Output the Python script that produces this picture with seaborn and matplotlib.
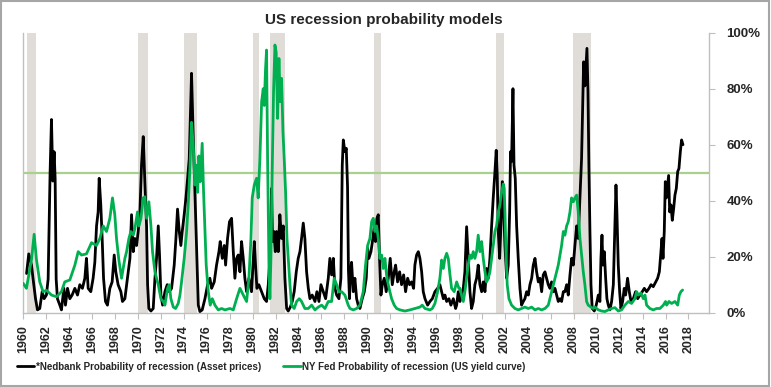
import matplotlib
matplotlib.use('Agg')
import matplotlib.pyplot as plt
import seaborn as sns
import pandas as pd
from matplotlib.patches import Rectangle

# Nedbank model (black) - year, probability %
ned_years = [1960.30, 1960.49, 1960.73, 1960.87, 1961.08, 1961.25, 1961.45, 1961.66, 1961.83, 1962.03,
             1962.18, 1962.35, 1962.47, 1962.59, 1962.70, 1962.79, 1962.88, 1962.99, 1963.20, 1963.34,
             1963.55, 1963.69, 1963.87, 1964.07, 1964.27, 1964.51, 1964.74, 1964.94, 1965.17, 1965.38,
             1965.52, 1965.67, 1965.90, 1966.10, 1966.25, 1966.40, 1966.54, 1966.63, 1966.77, 1966.89,
             1967.01, 1967.18, 1967.35, 1967.56, 1967.76, 1967.94, 1968.08, 1968.28, 1968.52, 1968.66,
             1968.87, 1969.02, 1969.16, 1969.31, 1969.45, 1969.60, 1969.74, 1969.89, 1970.03, 1970.18,
             1970.32, 1970.47, 1970.61, 1970.76, 1970.85, 1970.96, 1971.14, 1971.34, 1971.49, 1971.63,
             1971.78, 1971.89, 1972.01, 1972.16, 1972.36, 1972.56, 1972.74, 1972.94, 1973.17, 1973.32,
             1973.46, 1973.61, 1973.75, 1973.87, 1974.04, 1974.19, 1974.34, 1974.48, 1974.60, 1974.68,
             1974.80, 1974.92, 1975.03, 1975.15, 1975.27, 1975.41, 1975.61, 1975.85, 1976.08, 1976.28,
             1976.43, 1976.66, 1976.86, 1977.07, 1977.18, 1977.36, 1977.53, 1977.65, 1977.82, 1977.99,
             1978.17, 1978.32, 1978.46, 1978.61, 1978.75, 1978.90, 1979.04, 1979.19, 1979.33, 1979.48,
             1979.68, 1979.91, 1980.15, 1980.26, 1980.38, 1980.55, 1980.79, 1981.02, 1981.22, 1981.37,
             1981.51, 1981.66, 1981.74, 1981.86, 1981.98, 1982.09, 1982.24, 1982.38, 1982.53, 1982.68,
             1982.82, 1982.97, 1983.11, 1983.29, 1983.46, 1983.63, 1983.81, 1983.98, 1984.13, 1984.27,
             1984.42, 1984.56, 1984.71, 1984.86, 1985.00, 1985.20, 1985.44, 1985.61, 1985.79, 1985.96,
             1986.16, 1986.37, 1986.60, 1986.74, 1986.89, 1987.04, 1987.18, 1987.33, 1987.53, 1987.70,
             1987.82, 1987.91, 1988.05, 1988.17, 1988.28, 1988.36, 1988.45, 1988.52, 1988.63, 1988.78,
             1988.92, 1989.07, 1989.21, 1989.36, 1989.56, 1989.74, 1989.91, 1990.03, 1990.14, 1990.32,
             1990.49, 1990.61, 1990.72, 1990.84, 1990.96, 1991.07, 1991.19, 1991.31, 1991.48, 1991.65,
             1991.83, 1992.00, 1992.18, 1992.35, 1992.47, 1992.64, 1992.82, 1992.99, 1993.17, 1993.34,
             1993.52, 1993.69, 1993.86, 1994.04, 1994.15, 1994.30, 1994.45, 1994.59, 1994.74, 1994.88,
             1995.03, 1995.26, 1995.46, 1995.67, 1995.90, 1996.13, 1996.33, 1996.48, 1996.63, 1996.77,
             1996.92, 1997.12, 1997.29, 1997.50, 1997.70, 1997.79, 1997.93, 1998.08, 1998.22, 1998.37,
             1998.51, 1998.66, 1998.80, 1998.95, 1999.09, 1999.24, 1999.38, 1999.53, 1999.67, 1999.82,
             1999.97, 2000.11, 2000.26, 2000.40, 2000.55, 2000.69, 2000.84, 2000.98, 2001.13, 2001.24,
             2001.33, 2001.42, 2001.54, 2001.65, 2001.77, 2001.88, 2002.00, 2002.15, 2002.29, 2002.41,
             2002.49, 2002.58, 2002.70, 2002.79, 2002.90, 2003.02, 2003.16, 2003.31, 2003.45, 2003.60,
             2003.74, 2003.89, 2004.04, 2004.18, 2004.33, 2004.47, 2004.62, 2004.76, 2004.91, 2005.05,
             2005.20, 2005.34, 2005.49, 2005.63, 2005.78, 2005.92, 2006.07, 2006.22, 2006.36, 2006.51,
             2006.65, 2006.80, 2006.94, 2007.09, 2007.23, 2007.38, 2007.52, 2007.67, 2007.81, 2007.96,
             2008.10, 2008.25, 2008.39, 2008.54, 2008.68, 2008.77, 2008.86, 2008.97, 2009.06, 2009.15,
             2009.24, 2009.32, 2009.41, 2009.50, 2009.61, 2009.79, 2009.96, 2010.14, 2010.28, 2010.37,
             2010.46, 2010.54, 2010.66, 2010.78, 2010.89, 2011.01, 2011.15, 2011.30, 2011.45, 2011.59,
             2011.68, 2011.76, 2011.88, 2012.00, 2012.11, 2012.26, 2012.40, 2012.52, 2012.69, 2012.84,
             2012.99, 2013.19, 2013.39, 2013.57, 2013.77, 2013.97, 2014.15, 2014.35, 2014.56, 2014.73,
             2014.93, 2015.14, 2015.31, 2015.46, 2015.60, 2015.69, 2015.78, 2015.89, 2015.98, 2016.07,
             2016.18, 2016.27, 2016.36, 2016.47, 2016.59, 2016.71, 2016.82, 2016.94, 2017.06, 2017.17,
             2017.29, 2017.40, 2017.52]
ned_vals = [14, 21, 17, 12, 5, 1, 1.5, 7.5, 5, 6.3,
            12, 50, 69, 47, 57.5, 48, 12, 5, 2.7, 1,
            8.7, 2.7, 8.7, 5, 6.3, 8.7, 6.3, 10, 8.7, 12.3,
            19.4, 8.7, 7.5, 12.3, 18, 31, 36, 48, 38.5, 26.5,
            12.3, 4, 2.7, 8.7, 11, 20.6, 14.6, 10, 7.5, 4,
            5, 10, 14.6, 19.4, 35, 21.8, 26.5, 24, 29, 36,
            52.7, 62.9, 46.8, 31, 10, 1.5, 0.6, 1.5, 12.3, 19.4,
            31, 20.6, 6.3, 2.7, 7.5, 10, 7.5, 8.7, 17, 26.5,
            37, 29, 24, 29, 35, 41, 48, 55, 73, 85.5,
            67, 50.4, 36, 19.4, 2.7, 0.4, 1, 5, 10, 12.3,
            8.7, 11, 17, 21.8, 25.4, 19.4, 24, 17, 26.5, 32.5,
            33.7, 21.8, 12.3, 19.4, 20.6, 14.6, 25.4, 19.4, 12.3, 7.5,
            12.3, 7.5, 25.4, 17, 8.7, 10, 7.5, 5, 4, 10,
            19.4, 44.4, 25.4, 29, 21.8, 29, 21.8, 35, 26.5, 31,
            12.3, 1.5, 0.6, 2, 4, 7.5, 14.6, 19.4, 21.8, 26.5,
            32, 26.5, 14.6, 8.7, 5, 6.3, 4, 7.5, 4, 10,
            7.5, 5, 12.3, 19.4, 13.5, 19.4, 8.7, 6.3, 5, 12.3,
            52.7, 61.7, 57.5, 58.7, 45, 15, 5, 13.5, 18, 7.5,
            12.3, 5, 2.7, 1.5, 5, 7.5, 12.3, 23, 19.4, 21.8,
            26.5, 31, 25.4, 33.7, 35, 19.4, 6.3, 10, 12.3, 7.5,
            12.3, 19.4, 10, 14.6, 17, 11, 14.6, 10, 13.5, 7.5,
            12.3, 10, 11, 8.7, 17, 20.6, 21.8, 19.4, 14.6, 7.5,
            5, 2.7, 4, 5, 7.5, 8.7, 10, 7.5, 5, 6.3,
            4, 5, 2.7, 5, 1.5, 2.7, 7.5, 4, 6.3, 8.7,
            14.6, 30.7, 19.4, 7.5, 1.5, 4, 10, 12.3, 17, 10,
            7.5, 11, 7.5, 15.8, 12.3, 19.4, 31, 41, 50.4, 58,
            49, 29, 19.4, 31, 46.8, 38.5, 24, 12.3, 17, 36,
            57.5, 54, 80, 52.7, 48, 31, 19.4, 8.7, 2.7, 4,
            5, 7.5, 6.3, 10, 12.3, 17, 19.4, 14.6, 11, 12.3,
            7.5, 13.5, 14.6, 12.3, 10, 8.7, 11, 7.5, 8.7, 6.3,
            4, 5, 4, 7.5, 7.5, 10, 6.3, 13.5, 19.4, 17,
            24, 31, 26.5, 41, 55, 73, 89.6, 81, 88, 94.4,
            79, 52.7, 29, 10, 1.5, 0.6, 2.7, 6.3, 4, 19.4,
            27.7, 17, 21.8, 12.3, 5, 2.7, 1, 4, 10, 31,
            45.6, 36, 17, 7.5, 1.5, 4, 8.7, 6.3, 12.3, 7.5,
            4, 5, 7.5, 5, 6.3, 7.5, 8.7, 7.5, 8.7, 10,
            9.3, 11, 12.3, 14.6, 21.8, 26.5, 19.4, 29, 46.8, 41,
            45.6, 49, 36, 38.5, 33, 37.3, 42, 44.4, 50.4, 51.5,
            57.5, 61.7, 60]

# NY Fed model (green) - year, probability %
fed_years = [1960.00, 1960.29, 1960.73, 1960.96, 1961.16, 1961.45, 1961.74, 1962.03, 1962.47, 1962.91,
             1963.34, 1963.63, 1964.07, 1964.51, 1964.80, 1965.09, 1965.52, 1965.96, 1966.40, 1966.69,
             1966.98, 1967.27, 1967.56, 1967.79, 1967.99, 1968.14, 1968.34, 1968.58, 1968.87, 1969.02,
             1969.22, 1969.39, 1969.60, 1969.74, 1969.97, 1970.09, 1970.27, 1970.47, 1970.61, 1970.76,
             1970.96, 1971.14, 1971.28, 1971.49, 1971.63, 1971.78, 1972.01, 1972.21, 1972.36, 1972.59,
             1972.74, 1972.88, 1973.09, 1973.29, 1973.52, 1973.67, 1973.81, 1974.04, 1974.25, 1974.39,
             1974.54, 1974.68, 1974.83, 1974.97, 1975.09, 1975.21, 1975.32, 1975.44, 1975.61, 1975.73,
             1975.85, 1975.96, 1976.14, 1976.31, 1976.49, 1976.72, 1977.01, 1977.30, 1977.59, 1978.03,
             1978.32, 1978.61, 1978.90, 1979.19, 1979.48, 1979.68, 1979.86, 1979.97, 1980.15, 1980.35,
             1980.49, 1980.64, 1980.79, 1980.93, 1981.02, 1981.13, 1981.22, 1981.31, 1981.43, 1981.51,
             1981.60, 1981.72, 1981.83, 1981.95, 1982.06, 1982.18, 1982.30, 1982.41, 1982.53, 1982.65,
             1982.76, 1982.88, 1983.00, 1983.11, 1983.26, 1983.40, 1983.63, 1983.84, 1984.07, 1984.27,
             1984.56, 1984.86, 1985.15, 1985.44, 1985.73, 1986.02, 1986.31, 1986.60, 1986.89, 1987.12,
             1987.33, 1987.53, 1987.76, 1988.05, 1988.34, 1988.49, 1988.78, 1989.07, 1989.36, 1989.65,
             1989.85, 1990.03, 1990.23, 1990.38, 1990.52, 1990.67, 1990.81, 1990.96, 1991.10, 1991.25,
             1991.39, 1991.54, 1991.68, 1991.83, 1991.97, 1992.12, 1992.35, 1992.56, 1992.85, 1993.28,
             1993.72, 1994.15, 1994.59, 1994.79, 1995.03, 1995.46, 1995.67, 1995.90, 1996.13, 1996.33,
             1996.48, 1996.63, 1996.77, 1996.92, 1997.06, 1997.21, 1997.35, 1997.58, 1997.79, 1997.99,
             1998.08, 1998.22, 1998.37, 1998.51, 1998.66, 1998.80, 1998.95, 1999.09, 1999.24, 1999.38,
             1999.53, 1999.67, 1999.82, 1999.97, 2000.11, 2000.26, 2000.40, 2000.55, 2000.69, 2000.84,
             2000.98, 2001.13, 2001.27, 2001.42, 2001.56, 2001.71, 2001.86, 2001.94, 2002.00, 2002.09,
             2002.20, 2002.35, 2002.58, 2002.87, 2003.16, 2003.45, 2003.74, 2004.04, 2004.33, 2004.62,
             2004.91, 2005.20, 2005.49, 2005.78, 2006.07, 2006.36, 2006.65, 2006.80, 2006.94, 2007.09,
             2007.23, 2007.38, 2007.52, 2007.67, 2007.81, 2007.96, 2008.10, 2008.25, 2008.39, 2008.54,
             2008.68, 2008.83, 2008.97, 2009.12, 2009.26, 2009.50, 2009.70, 2009.85, 2010.14, 2010.43,
             2010.72, 2011.01, 2011.30, 2011.59, 2011.88, 2012.17, 2012.46, 2012.75, 2013.04, 2013.33,
             2013.48, 2013.63, 2013.86, 2014.06, 2014.21, 2014.35, 2014.64, 2014.93, 2015.22, 2015.51,
             2015.81, 2016.00, 2016.10, 2016.30, 2016.53, 2016.82, 2017.06, 2017.20, 2017.34, 2017.49]
fed_vals = [10.5, 8.7, 19, 28, 19, 11, 7.5, 8, 6.3, 5.7,
            7.5, 11, 11.7, 17, 21.8, 20.6, 21, 25, 24, 26.5,
            31, 29, 33.7, 41, 35, 26.5, 19, 12.3, 19.4, 21.8,
            26.5, 29, 27.7, 30, 36, 31, 33.7, 41, 41.4, 33.7,
            39.6, 31, 21.8, 14.6, 12.3, 10, 5, 4, 2.7, 8.7,
            10, 5, 2, 1.5, 3.3, 6.3, 11, 19.4, 29, 38.5,
            51.5, 68, 60, 45.6, 52.7, 43, 56, 46.8, 60.5, 43,
            29, 17, 7.5, 2.7, 5, 2.7, 1, 1.5, 1, 1.5,
            1, 5, 8.7, 6.3, 4, 12.3, 26.5, 41, 45.6, 48,
            41, 55, 75.4, 80, 74, 87, 93.8, 55, 17, 5,
            19.4, 52.7, 79, 95.6, 93, 69.4, 90.8, 75.4, 83.7, 64.6,
            55, 43, 26.5, 19.4, 10, 2.7, 1.5, 4, 5, 4,
            1.5, 1.5, 2.7, 1, 2, 2.7, 1.5, 4, 4, 12.3,
            10, 7.5, 7.5, 6.3, 2.7, 1.5, 1, 1.5, 2.7, 7.5,
            17, 24, 26.5, 32.5, 33.7, 29, 31, 26.5, 19.4, 20.6,
            15.8, 19.4, 13.5, 10, 7.5, 5, 2.7, 1.5, 1, 0.6,
            1, 1.5, 2, 2.7, 1.5, 1, 1.5, 3.3, 7.5, 12.3,
            18.8, 15.8, 19.4, 21.2, 19.4, 13.5, 8.7, 7.5, 11, 8.7,
            8.7, 6.3, 4, 7.5, 12.3, 17, 20.6, 19.4, 21.8, 19.4,
            21.8, 27.7, 21.8, 25.4, 19.4, 14.6, 11, 12.3, 14.6, 19.4,
            24, 29, 31, 36, 38.5, 43, 46, 44.4, 36, 21.8,
            10, 5, 2.7, 1.5, 1, 1.5, 2, 1.5, 2, 1,
            1.5, 1, 1.5, 2.7, 7.5, 12.3, 17, 20.6, 24, 29,
            27.7, 31, 32.5, 36, 41, 39.6, 41, 42, 36, 26.5,
            20.6, 14.6, 10, 4, 2.7, 2, 1.5, 2, 1, 0.6,
            0.4, 1, 1.5, 1.8, 0.6, 1, 2.7, 4, 3.3, 5,
            7.5, 6.3, 7, 5, 6.3, 2.7, 1.5, 1, 1.5, 1.5,
            2.7, 4, 2.7, 4, 3.3, 4, 2.7, 6.3, 7.5, 8.1]

# recession bands
rec_start = [1960.38, 1970.05, 1974.00, 1980.06, 1981.51, 1990.55, 2001.19, 2007.96]
rec_end = [1961.10, 1970.85, 1975.18, 1980.55, 1982.82, 1991.19, 2001.94, 2009.47]

ned_label = '*Nedbank Probability of recession (Asset prices)'
fed_label = 'NY Fed Probability of recession (US yield curve)'

ned = pd.DataFrame({'year': ned_years, 'prob': ned_vals})
fed = pd.DataFrame({'year': fed_years, 'prob': fed_vals})

sns.set_style('white')
plt.rcParams['font.family'] = ['Liberation Sans', 'DejaVu Sans']
plt.rcParams['font.weight'] = 'bold'

fig = plt.figure(figsize=(7.71, 3.87), dpi=100)
ax = fig.add_axes([0.030, 0.192, 0.889, 0.7235])

for s, e in zip(rec_start, rec_end):
    ax.axvspan(s, e, color='#E0DDD9', lw=0, zorder=0)
ax.axhline(50, color='#A9D18E', lw=1.6, zorder=1)

sns.lineplot(data=ned, x='year', y='prob', ax=ax, color='black', lw=2.0, label=ned_label, zorder=3)
sns.lineplot(data=fed, x='year', y='prob', ax=ax, color='#00B050', lw=2.0, label=fed_label, zorder=4)

ax.set_xlim(1960, 2019.75)
ax.set_ylim(0, 100)
ax.set_xticks(range(1960, 2019, 2))
ax.set_xticklabels([str(y) for y in range(1960, 2019, 2)], rotation=90, fontsize=9, fontweight='bold')
ax.yaxis.tick_right()
ax.set_yticks(range(0, 101, 20))
ax.set_yticklabels([f'{v}%' for v in range(0, 101, 20)], fontsize=9.5, fontweight='bold')
ax.tick_params(axis='x', direction='out', length=4, color='#BFBFBF', pad=5, bottom=True)
ax.tick_params(axis='y', direction='out', length=4, color='#BFBFBF', pad=9, right=True, left=False)
ax.set_xlabel('')
ax.set_ylabel('')
for side in ['left', 'right', 'bottom']:
    ax.spines[side].set_color('#BFBFBF')
    ax.spines[side].set_linewidth(1)
ax.spines['top'].set_visible(False)

handles, labels = ax.get_legend_handles_labels()
ax.get_legend().remove()
fig.legend(handles, labels, loc='center', bbox_to_anchor=(0.352, 0.052), ncol=2, frameon=False,
           fontsize=7.0, handlelength=1.8, handletextpad=0.2, columnspacing=2.2)

fig.text(0.498, 0.948, 'US recession probability models', ha='center', va='center',
         fontsize=11, fontweight='bold')

fig.patches.append(Rectangle((0.001, 0.002), 0.997, 0.996, transform=fig.transFigure,
                             fill=False, edgecolor='#A6A6A6', lw=1.5))

fig.savefig('out.png', dpi=100)
